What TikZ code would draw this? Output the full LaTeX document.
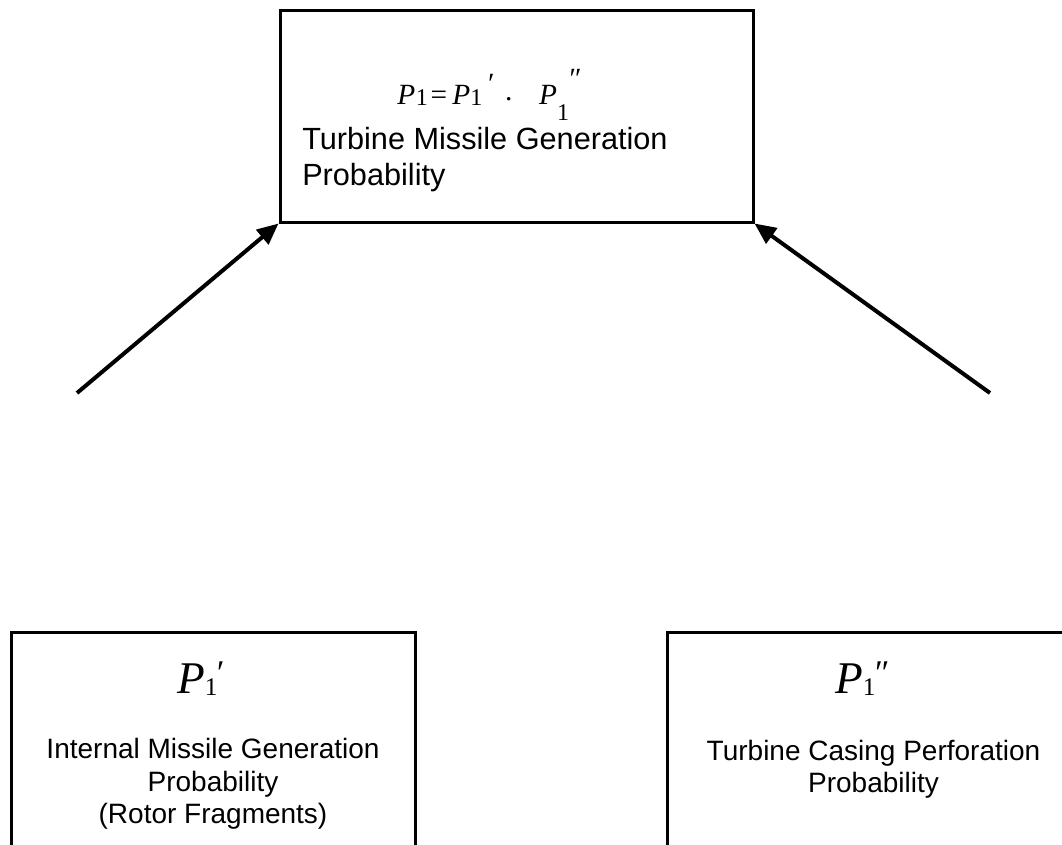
\documentclass[tikz,border=0pt]{standalone}
\usepackage{fontspec}
\setmainfont{Liberation Sans}
\newfontfamily\tms{Liberation Serif}
\usetikzlibrary{arrows.meta}
\tikzset{
  box/.style={draw=black, line width=2.25pt, inner sep=0pt},
  lbl/.style={font=\fontsize{21}{25}\selectfont, inner sep=0pt},
  biglbl/.style={font=\fontsize{23}{27}\selectfont, inner sep=0pt},
  frm/.style={inner sep=0pt, anchor=base west},
  conn/.style={line width=3pt, -{Triangle[length=16pt,width=14pt]}},
}
\begin{document}
\begin{tikzpicture}[x=0.75pt,y=-0.75pt]
\clip (0,0) rectangle (1062,844);
\fill[white] (0,0) rectangle (1062,844);
% boxes
\node[box, minimum width=354.75pt, minimum height=159pt] (top) at (516.5,116) {};
\node[box, minimum width=303pt, minimum height=238.5pt] (left) at (213,791) {};
\node[box, minimum width=309.75pt, minimum height=238.5pt] (right) at (873.5,791) {};
% top box texts
\node[frm] (formula) at (397,104) {\tms\fontsize{22}{26}\selectfont
  \textit{P}\hspace{0.5pt}\raisebox{-1pt}{\fontsize{18}{18}\selectfont 1}\hspace{2pt}=\hspace{4pt}\textit{P}\raisebox{-1pt}{\fontsize{18}{18}\selectfont 1}\hspace{3pt}\raisebox{8pt}{\textit{′}}\hspace{9pt}\raisebox{3pt}{.}\hspace{20pt}\textit{P}\raisebox{-12pt}{\fontsize{18}{18}\selectfont 1}\hspace{-1pt}\raisebox{12pt}{\textit{″}}};
\node[biglbl, anchor=base west] (tt1) at (302,149) {Turbine Missile Generation};
\node[biglbl, anchor=base west] (tt2) at (302,185) {Probability};
% left box texts
\node[frm] (pl) at (177,693) {\tms\fontsize{34}{40}\selectfont\textit{P}\raisebox{-1.5pt}{\fontsize{19}{19}\selectfont 1}\hspace{-2pt}\raisebox{6.5pt}{\fontsize{26}{26}\selectfont\textit{′}}};
\node[lbl, anchor=base] (lt1) at (213,758) {Internal Missile Generation};
\node[lbl, anchor=base] (lt2) at (213,791) {Probability};
\node[lbl, anchor=base] (lt3) at (213,823) {(Rotor Fragments)};
% right box texts
\node[frm] (pr) at (835,693) {\tms\fontsize{34}{40}\selectfont\textit{P}\raisebox{-1.5pt}{\fontsize{19}{19}\selectfont 1}\hspace{-2pt}\raisebox{6.5pt}{\fontsize{26}{26}\selectfont\textit{″}}};
\node[lbl, anchor=base] (rt1) at (873.5,760) {Turbine Casing Perforation};
\node[lbl, anchor=base] (rt2) at (873.5,792) {Probability};
% connectors
\coordinate (s1) at (77,393);
\coordinate (s2) at (990,393);
\draw[conn] (s1) -- (top.south west);
\draw[conn] (s2) -- (top.south east);
\end{tikzpicture}
\end{document}
